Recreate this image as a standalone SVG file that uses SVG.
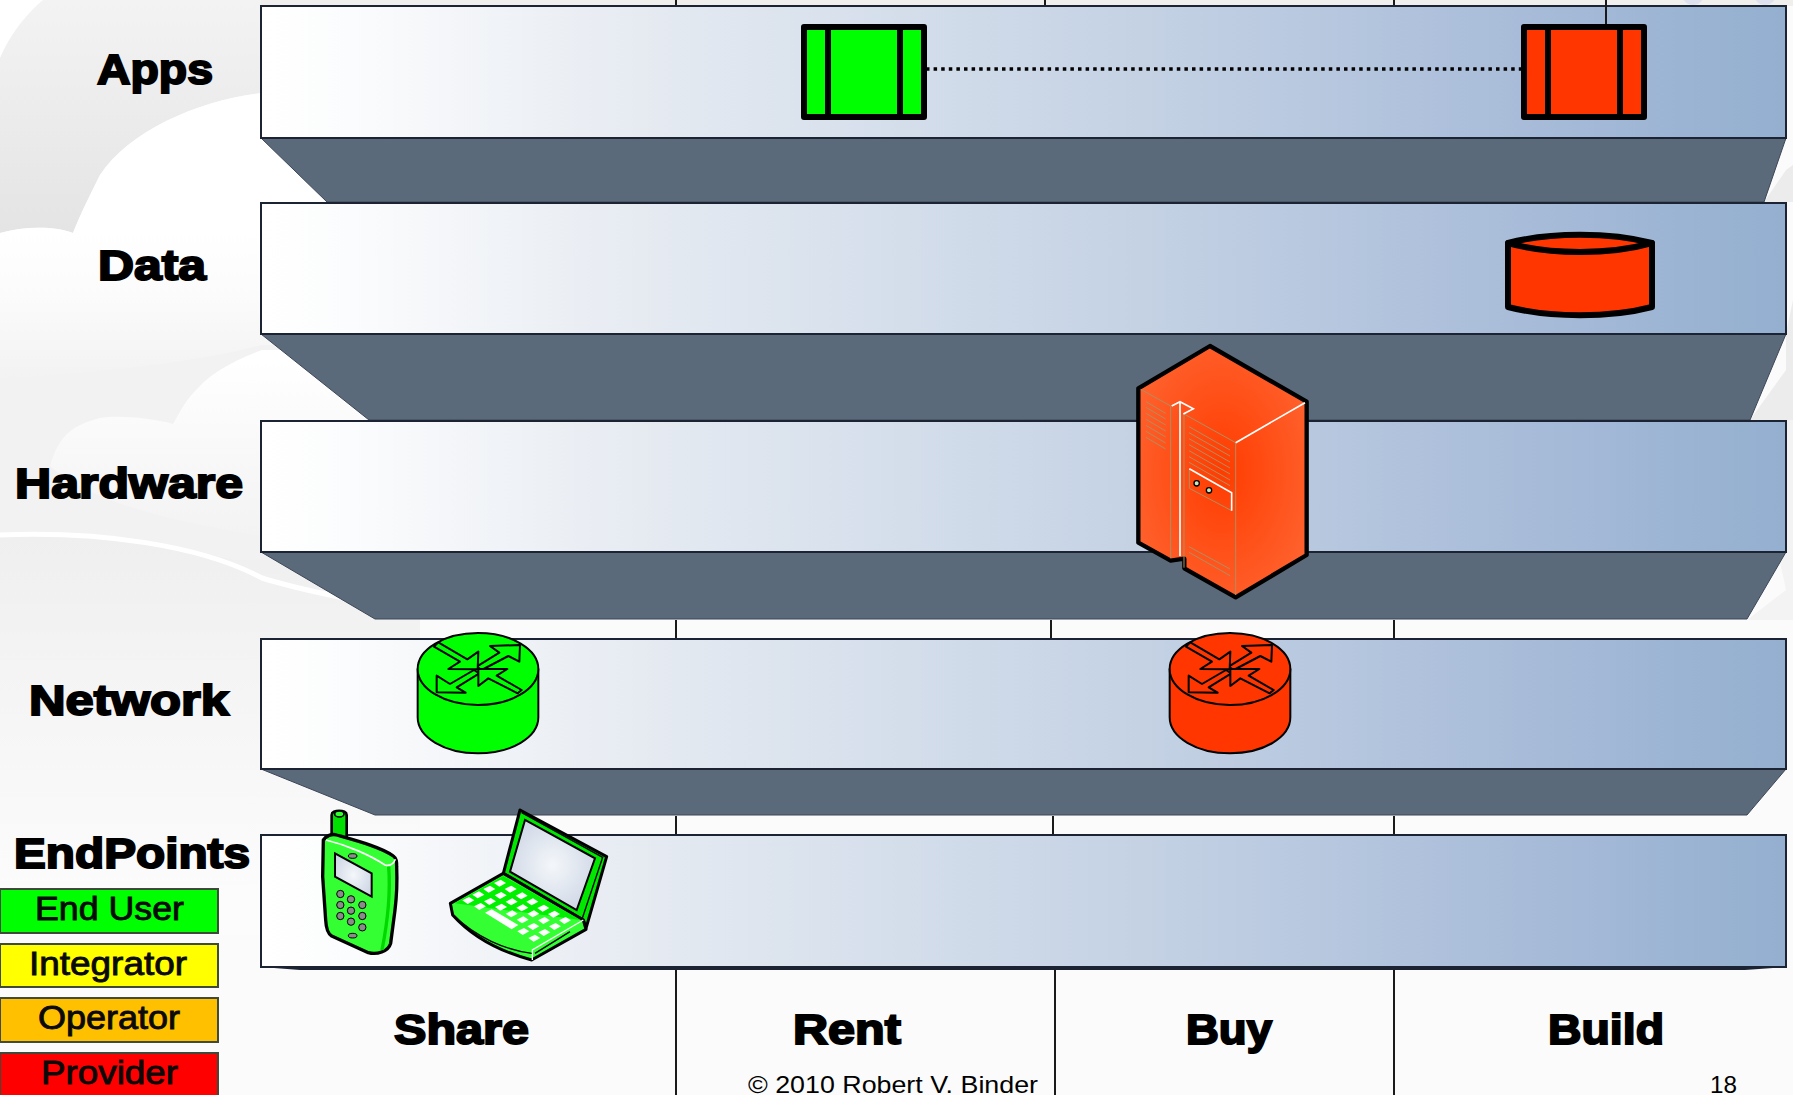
<svg xmlns="http://www.w3.org/2000/svg" xmlns:xlink="http://www.w3.org/1999/xlink" width="1793" height="1095" viewBox="0 0 1793 1095">
<style>
.band{fill:url(#bandGrad);stroke:#1c2433;stroke-width:2}
.under{fill:#5b6a7b;stroke:#3c4656;stroke-width:1}
.axis{stroke:#1a1a1a;stroke-width:2;fill:none}
.lay{font-family:"Liberation Sans",Arial,sans-serif;font-weight:700;font-size:43px;fill:#000;stroke:#000;stroke-width:2}
.leg{font-family:"Liberation Sans",Arial,sans-serif;font-size:33px;fill:#0a0a0a;stroke:#0a0a0a;stroke-width:.9}
.legbox{stroke:#3f4a3a;stroke-width:2}
.foot{font-family:"Liberation Sans",Arial,sans-serif;font-size:24px;fill:#000}
.ic{stroke:#000;stroke-linejoin:round;stroke-linecap:round}
.tan{stroke:#b08f5e;stroke-width:3;fill:none}
.wht{stroke:#fff;stroke-width:5;fill:none}
</style>
<defs>
<linearGradient id="bandGrad" gradientUnits="userSpaceOnUse" x1="261" y1="0" x2="1786" y2="0">
<stop offset="0" stop-color="#ffffff"/><stop offset=".06" stop-color="#fbfcfd"/><stop offset=".22" stop-color="#e9edf3"/><stop offset=".42" stop-color="#d4deeb"/><stop offset=".6" stop-color="#c2d0e3"/><stop offset=".8" stop-color="#abbeda"/><stop offset="1" stop-color="#94afd0"/>
</linearGradient>
<linearGradient id="greyTop" x1="0" y1="0" x2="0" y2="1"><stop offset="0" stop-color="#f3f3f3"/><stop offset="1" stop-color="#e4e4e4"/></linearGradient>
<linearGradient id="cloudFade" gradientUnits="userSpaceOnUse" x1="0" y1="230" x2="0" y2="400"><stop offset="0" stop-color="#ffffff"/><stop offset=".4" stop-color="#fbfbfb"/><stop offset="1" stop-color="#f0f0f0"/></linearGradient>
<linearGradient id="midFade" gradientUnits="userSpaceOnUse" x1="0" y1="360" x2="0" y2="580"><stop offset="0" stop-color="#ffffff"/><stop offset=".45" stop-color="#f8f8f8"/><stop offset="1" stop-color="#f0f0f0"/></linearGradient>
<linearGradient id="lowFade" gradientUnits="userSpaceOnUse" x1="0" y1="535" x2="0" y2="900"><stop offset="0" stop-color="#efefef"/><stop offset=".6" stop-color="#f7f7f7"/><stop offset="1" stop-color="#fcfcfc"/></linearGradient>
<radialGradient id="orange" cx=".5" cy=".5" r=".65"><stop offset="0" stop-color="#ff3c00"/><stop offset="1" stop-color="#ff6633"/></radialGradient>
<radialGradient id="screen" cx=".5" cy=".5" r=".6"><stop offset="0" stop-color="#f4f7fa"/><stop offset="1" stop-color="#cdd6e5"/></radialGradient>
<g id="router" class="ic" stroke-width="6">
<path d="M383 177V322C383 382 464 430 564 430S745 382 745 322V177Z"/>
<ellipse cx="564" cy="177" rx="181" ry="108"/>
<path d="M560 170L628 128L600 108L690 105L688 155L655 138L575 180Z"/>
<path d="M552 180L480 222L440 197V247L527 248L500 232L568 190Z"/>
<path d="M445 97L532 148L565 125L563 178L475 177L510 155L432 110Z"/>
<path d="M695 240L620 197L652 177L565 177V228L595 205L683 250Z"/>
</g>
<polygon id="key" points="-18,-1 2,-11 18,-1 -2,10" fill="#fff"/>
<circle id="btn" r="11" fill="#8a8a8a" stroke="#000" stroke-width="3"/>
</defs>
<g id="background">
<rect width="1793" height="1095" fill="#fbfbfb"/>
<rect x="0" y="535" width="420" height="400" fill="url(#lowFade)"/>
<path d="M0 0H420V93H262C200 100 130 130 100 175C90 195 80 215 73 233C55 226 25 226 0 233Z" fill="url(#greyTop)"/>
<path d="M0 58C10 35 25 15 43 0H0Z" fill="#fff"/>
<path d="M0 233C25 226 55 226 73 233C80 215 90 195 100 175C130 130 200 100 262 93H420V420H0Z" fill="url(#cloudFade)"/>
<path d="M0 400V535H420V340H262C230 362 210 375 200 386C185 400 180 412 173 424C150 418 120 415 100 418C75 425 60 432 50 466Z" fill="#f1f1f1" opacity="0"/>
<path d="M0 380C70 372 160 370 262 345H420V560H0Z" fill="#f2f2f2"/>
<path d="M262 350C230 362 210 375 200 386C185 400 180 412 173 424C150 418 120 415 100 418C75 425 60 432 50 466C100 510 200 530 420 560V350Z" fill="url(#midFade)"/>
<path d="M0 535C100 530 200 545 420 610V700H0Z" fill="url(#lowFade)"/>
<path d="M0 535C100 531 200 545 262 578C300 590 350 600 420 612" fill="none" stroke="#fff" stroke-width="5"/>
<path d="M261 0H1793V6H261Z" fill="#f0efee"/>
<circle cx="1693" cy="-6" r="11" fill="#dfe0ee"/><circle cx="1765" cy="-6" r="11" fill="#dfe0ee"/>
<path d="M1764 202L1786 170L1793 165V420H1750L1786 370V333L1793 300V202Z" fill="#ececec"/>
<path d="M1750 420H1793V620H1747L1786 590Z" fill="#f3f3f3"/>
</g>
<g id="unders">
<polygon class="under" points="261,138 1786,138 1764,202 327,202"/>
<polygon class="under" points="261,334 1786,334 1750,420 369,420"/>
<polygon class="under" points="261,552 1786,552 1747,619 375,619"/>
<polygon class="under" points="261,769 1786,769 1747,815 375,815"/>
<polygon points="261,967 1786,967 1745,970 300,970" fill="#1c2433"/>
</g>
<g id="layer-apps"><rect class="band" x="261" y="6" width="1525" height="132"/><text class="lay" x="97" y="84" textLength="116" lengthAdjust="spacingAndGlyphs">Apps</text></g>
<g id="layer-data"><rect class="band" x="261" y="203" width="1525" height="131"/><text class="lay" x="98" y="280" textLength="108" lengthAdjust="spacingAndGlyphs">Data</text></g>
<g id="layer-hardware"><rect class="band" x="261" y="421" width="1525" height="131"/><text class="lay" x="15" y="498" textLength="228" lengthAdjust="spacingAndGlyphs">Hardware</text></g>
<g id="layer-network"><rect class="band" x="261" y="639" width="1525" height="130"/><text class="lay" x="29" y="715" textLength="200" lengthAdjust="spacingAndGlyphs">Network</text></g>
<g id="layer-endpoints"><rect class="band" x="261" y="835" width="1525" height="132"/><text class="lay" x="14" y="868" textLength="236" lengthAdjust="spacingAndGlyphs">EndPoints</text></g>
<g id="connectors">
<path class="axis" d="M676 0V5M1045 0V5M1394 0V5M676 620V638M1051 620V638M1394 620V638M676 816V834M1053 816V834M1394 816V834M676 970V1095M1055 970V1095M1394 970V1095M1606 0V26"/>
<path d="M926 69H1522" fill="none" stroke="#000" stroke-width="3.5" stroke-dasharray="3.5 4.1"/>
</g>
<g id="legend-enduser"><rect class="legbox" x="0" y="889" width="218" height="44" fill="#00ff00"/><text class="leg" x="35" y="920" textLength="149" lengthAdjust="spacingAndGlyphs">End User</text></g>
<g id="legend-integrator"><rect class="legbox" x="0" y="944" width="218" height="43" fill="#ffff00"/><text class="leg" x="29" y="975" textLength="158" lengthAdjust="spacingAndGlyphs">Integrator</text></g>
<g id="legend-operator"><rect class="legbox" x="0" y="998" width="218" height="44" fill="#ffc000"/><text class="leg" x="38" y="1029" textLength="142" lengthAdjust="spacingAndGlyphs">Operator</text></g>
<g id="legend-provider"><rect class="legbox" x="0" y="1053" width="218" height="44" fill="#ff0000"/><text class="leg" x="41" y="1084" textLength="137" lengthAdjust="spacingAndGlyphs">Provider</text></g>
<g id="col-share"><text class="lay" x="394" y="1044" textLength="135" lengthAdjust="spacingAndGlyphs">Share</text></g>
<g id="col-rent"><text class="lay" x="793" y="1044" textLength="108" lengthAdjust="spacingAndGlyphs">Rent</text></g>
<g id="col-buy"><text class="lay" x="1186" y="1044" textLength="86" lengthAdjust="spacingAndGlyphs">Buy</text></g>
<g id="col-build"><text class="lay" x="1548" y="1044" textLength="116" lengthAdjust="spacingAndGlyphs">Build</text></g>
<g id="footer"><text class="foot" x="748" y="1093" textLength="290" lengthAdjust="spacingAndGlyphs">© 2010 Robert V. Binder</text><text class="foot" x="1710" y="1093" textLength="27" lengthAdjust="spacingAndGlyphs">18</text></g>
<g id="app-green" class="ic" fill="#00ff00" stroke-width="6">
<rect x="804" y="27" width="120" height="90"/><path d="M828 27V117M900 27V117" fill="none"/>
</g>
<g id="app-red" class="ic" fill="#ff3600" stroke-width="6">
<rect x="1524" y="27" width="120" height="90"/><path d="M1548 27V117M1620 27V117" fill="none"/>
</g>
<g id="data-red" class="ic" fill="#ff3600" stroke-width="6">
<path d="M1508 243C1550 232 1610 232 1652 243V307C1610 318 1550 318 1508 307Z"/>
<path d="M1508 243C1550 255 1610 255 1652 243" fill="none"/>
</g>
<g id="server" transform="translate(1050 320) scale(.33333)">
<path d="M480 78L770 245V705L557 832L403 745V716L362 722L265 668V205Z" fill="url(#orange)" stroke="#000" stroke-width="13" stroke-linejoin="round"/>
<path class="tan" d="M272 208L362 258V715M402 282L557 368V825M402 282V743"/>
<path class="wht" d="M557 368L765 248M390 245V708M365 258L390 245L430 266L400 282"/>
<path class="tan" d="M288 245l59 35M288 262l59 35M288 280l59 35M288 298l59 35M288 316l59 35M288 334l59 35M288 352l59 35M417 320l123 70M417 338l123 70M417 356l123 70M417 374l123 70M417 392l123 70M417 410l123 70M417 427l123 70M417 680l123 67M417 697l123 70M418 448V505L545 572"/>
<path class="wht" d="M418 446L545 518V572" stroke-width="4"/>
<circle cx="440" cy="490" r="8" fill="#c8e8c0" stroke="#000" stroke-width="4"/><circle cx="477" cy="511" r="8" fill="#c8e8c0" stroke="#000" stroke-width="4"/>
</g>
<g id="router-green" transform="translate(290 610) scale(.33333)" fill="#00ff00"><use xlink:href="#router" href="#router"/></g>
<g id="router-red" transform="translate(1042 610) scale(.33333)" fill="#ff3600"><use xlink:href="#router" href="#router"/></g>
<g id="phone" transform="translate(290 610) scale(.33333)">
<path d="M125 615C125 598 170 598 170 615V690C170 700 125 700 125 690Z" fill="#00e000" stroke="#000" stroke-width="8"/>
<ellipse cx="148" cy="612" rx="14" ry="9" fill="#33ff33" stroke="#000" stroke-width="5"/>
<path d="M100 690C108 678 125 670 140 675C200 692 275 712 310 738C320 745 320 755 320 770C322 820 320 860 315 900L302 1000C295 1025 260 1035 235 1028L125 978C112 970 108 950 107 930L98 800Z" fill="#33ff33" stroke="#000" stroke-width="10" stroke-linejoin="round"/>
<path d="M108 690C170 705 240 735 285 765C300 770 312 760 316 748" fill="none" stroke="#fff" stroke-width="5"/>
<path d="M296 770C302 850 290 950 276 1020" fill="none" stroke="#00d800" stroke-width="10"/>
<polygon points="135,730 245,790 245,860 135,800" fill="url(#screen)" stroke="#000" stroke-width="6"/>
<g><ellipse cx="188" cy="738" rx="13" ry="7" fill="#8a8a8a" stroke="#000" stroke-width="3"/><ellipse cx="188" cy="977" rx="13" ry="7" fill="#8a8a8a" stroke="#000" stroke-width="3"/>
<use href="#btn" x="151" y="852"/><use href="#btn" x="183" y="868"/><use href="#btn" x="217" y="885"/><use href="#btn" x="151" y="885"/><use href="#btn" x="183" y="902"/><use href="#btn" x="217" y="918"/><use href="#btn" x="151" y="918"/><use href="#btn" x="183" y="935"/><use href="#btn" x="217" y="952"/></g>
</g>
<g id="laptop" transform="translate(290 610) scale(.33333)">
<path d="M690 600L950 740L888 955L880 930L640 790Z" fill="#00e800" stroke="#000" stroke-width="9" stroke-linejoin="round"/>
<path d="M695 608L938 742L877 925" fill="none" stroke="#000" stroke-width="4"/>
<polygon points="705,630 915,745 860,900 660,785" fill="url(#screen)" stroke="#000" stroke-width="6"/>
<path d="M640 790L880 930L888 958L725 1050C650 1030 560 995 488 915L481 880Z" fill="#33ff33" stroke="#000" stroke-width="9" stroke-linejoin="round"/>
<path d="M495 880L640 798L872 930" fill="#00f000" stroke="none"/>
<path d="M880 930L727 1020V1050" fill="none" stroke="#fff" stroke-width="4"/>
<path d="M735 1030L840 965" fill="none" stroke="#000" stroke-width="4"/>
<path d="M487 912C560 985 650 1020 725 1030" fill="none" stroke="#000" stroke-width="4"/>
<g><use href="#key" x="630" y="820"/><use href="#key" x="662" y="838"/><use href="#key" x="695" y="858"/><use href="#key" x="727" y="876"/><use href="#key" x="760" y="895"/><use href="#key" x="792" y="913"/><use href="#key" x="825" y="932"/>
<use href="#key" x="598" y="838"/><use href="#key" x="632" y="857"/><use href="#key" x="665" y="876"/><use href="#key" x="697" y="894"/><use href="#key" x="730" y="912"/><use href="#key" x="762" y="932"/><use href="#key" x="795" y="950"/>
<use href="#key" x="565" y="855"/><use href="#key" x="600" y="875"/><use href="#key" x="633" y="892"/><use href="#key" x="665" y="912"/><use href="#key" x="698" y="930"/><use href="#key" x="730" y="950"/><use href="#key" x="763" y="968"/>
<use href="#key" x="535" y="872"/><use href="#key" x="570" y="890"/><use href="#key" x="700" y="965"/><use href="#key" x="733" y="985"/>
<polygon points="585,908 605,898 685,945 665,958" fill="#fff"/></g>
</g>
</svg>
